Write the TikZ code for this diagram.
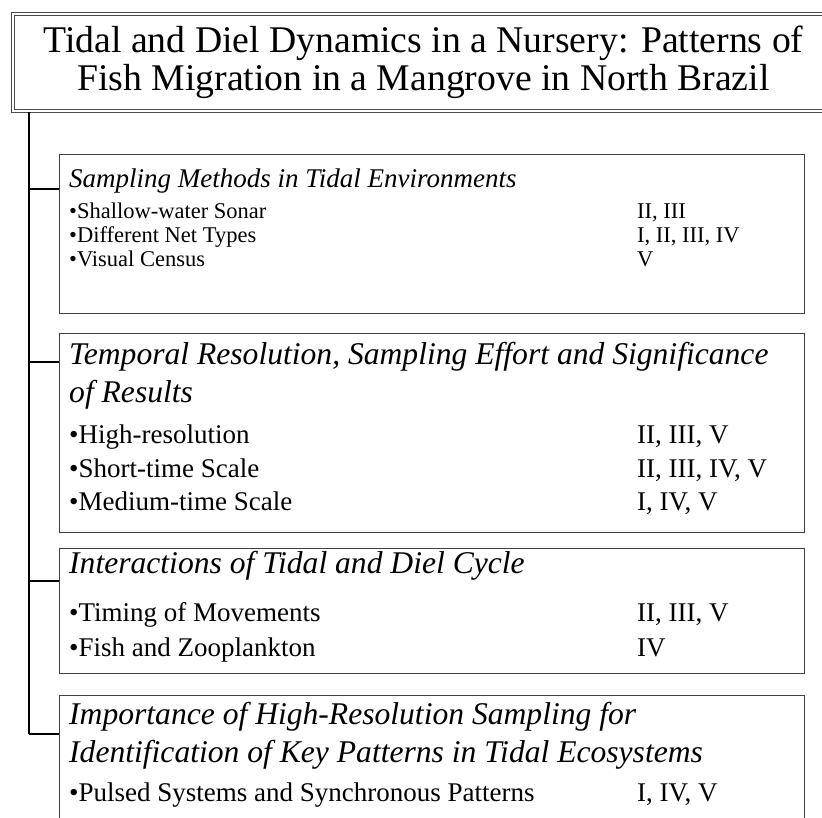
\documentclass[tikz,border=0pt]{standalone}
\usepackage{fontspec}
\setmainfont{Liberation Serif}
\usepackage{tikz}
\usetikzlibrary{positioning}

\begin{document}
\begin{tikzpicture}[x=1pt, y=-1pt,
    titlebox/.style={rectangle, draw=black!70, double=white, double distance=2pt, line width=0.8pt, minimum width=821pt, minimum height=97.5pt, inner sep=0pt, align=center, font=\fontsize{37.7}{38}\selectfont},
    sbox/.style={rectangle, draw=black!75, line width=1.2pt, anchor=north west, minimum width=745pt, inner sep=0pt},
    head/.style={anchor=west, inner sep=0pt, text height=0.7em, text depth=0.2em, font=\fontsize{31.6}{37}\selectfont\itshape},
    entry/.style={anchor=west, inner sep=0pt, text height=0.7em, text depth=0.2em, font=\fontsize{27}{31}\selectfont},
    headsmall/.style={head, font=\fontsize{27}{31}\selectfont\itshape},
    entrysmall/.style={entry, font=\fontsize{22.5}{25}\selectfont},
    link/.style={line width=1.4pt}]
    \useasboundingbox (0,0) rectangle (822,818);
    \clip (0,0) rectangle (822,818);

    % title
    \node[titlebox] (title) at (423.5,62.5) {Tidal and Diel Dynamics in a Nursery: Patterns of\\Fish Migration in a Mangrove in North Brazil};

    % boxes
    \node[sbox, minimum height=159pt] (methods) at (59,154) {};
    \node[sbox, minimum height=199pt] (temporal) at (59,333) {};
    \node[sbox, minimum height=125pt] (cycles) at (59,548) {};
    \node[sbox, minimum height=150pt] (patterns) at (59,695) {};

    % sampling methods
    \node[headsmall] (methodsHead) at (69,185) {Sampling Methods in Tidal Environments};
    \node[entrysmall] (sonar) at (69,216) {•Shallow-water Sonar};
    \node[entrysmall] (nets) at (69,240) {•Different Net Types};
    \node[entrysmall] (census) at (69,264) {•Visual Census};
    \node[entrysmall] (sonarRef) at (637,216) {II, III};
    \node[entrysmall] (netsRef) at (637,240) {I, II, III, IV};
    \node[entrysmall] (censusRef) at (637,264) {V};

    % temporal resolution
    \node[head] (temporalHead) at (69,362) {Temporal Resolution, Sampling Effort and Significance};
    \node[head] (temporalHeadB) at (69,400) {of Results};
    \node[entry] (highres) at (69,441) {•High-resolution};
    \node[entry] (short) at (69,475) {•Short-time Scale};
    \node[entry] (medium) at (69,508) {•Medium-time Scale};
    \node[entry] (highresRef) at (637,441) {II, III, V};
    \node[entry] (shortRef) at (637,475) {II, III, IV, V};
    \node[entry] (mediumRef) at (637,508) {I, IV, V};

    % tidal and diel cycle
    \node[head] (cyclesHead) at (69,571) {Interactions of Tidal and Diel Cycle};
    \node[entry] (timing) at (69,619) {•Timing of Movements};
    \node[entry] (plankton) at (69,654) {•Fish and Zooplankton};
    \node[entry] (timingRef) at (637,619) {II, III, V};
    \node[entry] (planktonRef) at (637,654) {IV};

    % key patterns
    \node[head] (patternsHead) at (69,722) {Importance of High-Resolution Sampling for};
    \node[head] (patternsHeadB) at (69,760) {Identification of Key Patterns in Tidal Ecosystems};
    \node[entry] (pulsed) at (69,799) {•Pulsed Systems and Synchronous Patterns};
    \node[entry] (pulsedRef) at (637,799) {I, IV, V};

    % connectors
    \coordinate (t1) at (29,189);
    \coordinate (t2) at (29,362);
    \coordinate (t3) at (29,581);
    \coordinate (t4) at (29,734);
    \draw[link] (title.south -| t1) -- (t4);
    \draw[link] (t1) -- (methods.west |- t1);
    \draw[link] (t2) -- (temporal.west |- t2);
    \draw[link] (t3) -- (cycles.west |- t3);
    \draw[link] (t4) -- (patterns.west |- t4);
\end{tikzpicture}
\end{document}
